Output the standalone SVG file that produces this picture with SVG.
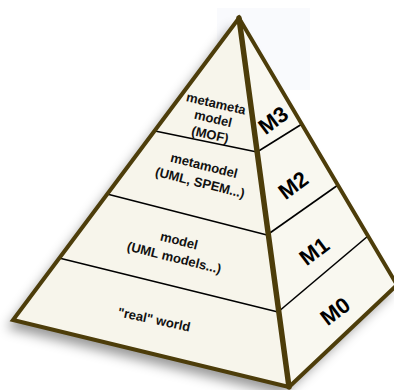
<svg xmlns="http://www.w3.org/2000/svg" width="394" height="390" viewBox="0 0 394 390">
<defs>
<filter id="shadow" x="-20%" y="-20%" width="140%" height="140%">
<feDropShadow dx="-6" dy="8" stdDeviation="6" flood-color="#000" flood-opacity="0.4"/>
</filter>
</defs>
<style>
.edge{fill:none;stroke:#4d3d0a;stroke-width:4;stroke-linejoin:miter;stroke-linecap:round}
.mid{fill:none;stroke:#4d3d0a;stroke-width:5.5;stroke-linecap:round}
.div{fill:none;stroke:#000;stroke-width:1.6}
.lbl{font-family:"Liberation Sans",Arial,sans-serif;font-weight:bold;font-size:13px;fill:#111;text-anchor:middle}
.m{font-family:"Liberation Sans",Arial,sans-serif;font-weight:bold;font-size:22px;fill:#000;text-anchor:middle}
</style>
<rect width="394" height="390" fill="#fff"/>
<rect x="217" y="8" width="93" height="82" fill="#f9fafd"/>
<g id="pyramid">
<polygon points="239,18 13,320 289,387 397,285" fill="#f7f5eb" filter="url(#shadow)"/>
<polygon points="239,18 289,387 397,285" fill="#f9f8f0"/>
</g>
<g id="connectors">
<line class="div" x1="155" y1="131" x2="257" y2="152"/>
<line class="div" x1="107" y1="194" x2="267" y2="235"/>
<line class="div" x1="59" y1="258" x2="278" y2="312"/>
<line class="div" x1="257" y1="152" x2="302" y2="124"/>
<line class="div" x1="267" y1="235" x2="338" y2="185"/>
<line class="div" x1="278" y1="312" x2="368" y2="236"/>
<polygon class="edge" points="239,18 13,320 289,387 397,285"/>
<line class="mid" x1="239" y1="18" x2="289" y2="387"/>
</g>
<g id="m3">
<text class="lbl" x="216" y="108" transform="rotate(13 216 104)">metameta</text>
<text class="lbl" x="213" y="123" transform="rotate(13 213 119)">model</text>
<text class="lbl" x="210" y="139" transform="rotate(13 210 135)">(MOF)</text>
<text class="m" x="273" y="128" transform="rotate(-37 273 120)">M3</text>
</g>
<g id="m2">
<text class="lbl" x="204" y="170" transform="rotate(14 204 166)">metamodel</text>
<text class="lbl" x="200" y="187" transform="rotate(14 200 183)">(UML, SPEM...)</text>
<text class="m" x="293" y="193" transform="rotate(-37 293 185)">M2</text>
</g>
<g id="m1">
<text class="lbl" x="179" y="245" transform="rotate(14 179 241)">model</text>
<text class="lbl" x="174" y="262" transform="rotate(14 174 258)">(UML models...)</text>
<text class="m" x="314" y="259" transform="rotate(-37 314 251)">M1</text>
</g>
<g id="m0">
<text class="lbl" x="154" y="324" transform="rotate(12 154 320)">"real" world</text>
<text class="m" x="335" y="319" transform="rotate(-37 335 311)">M0</text>
</g>
</svg>
